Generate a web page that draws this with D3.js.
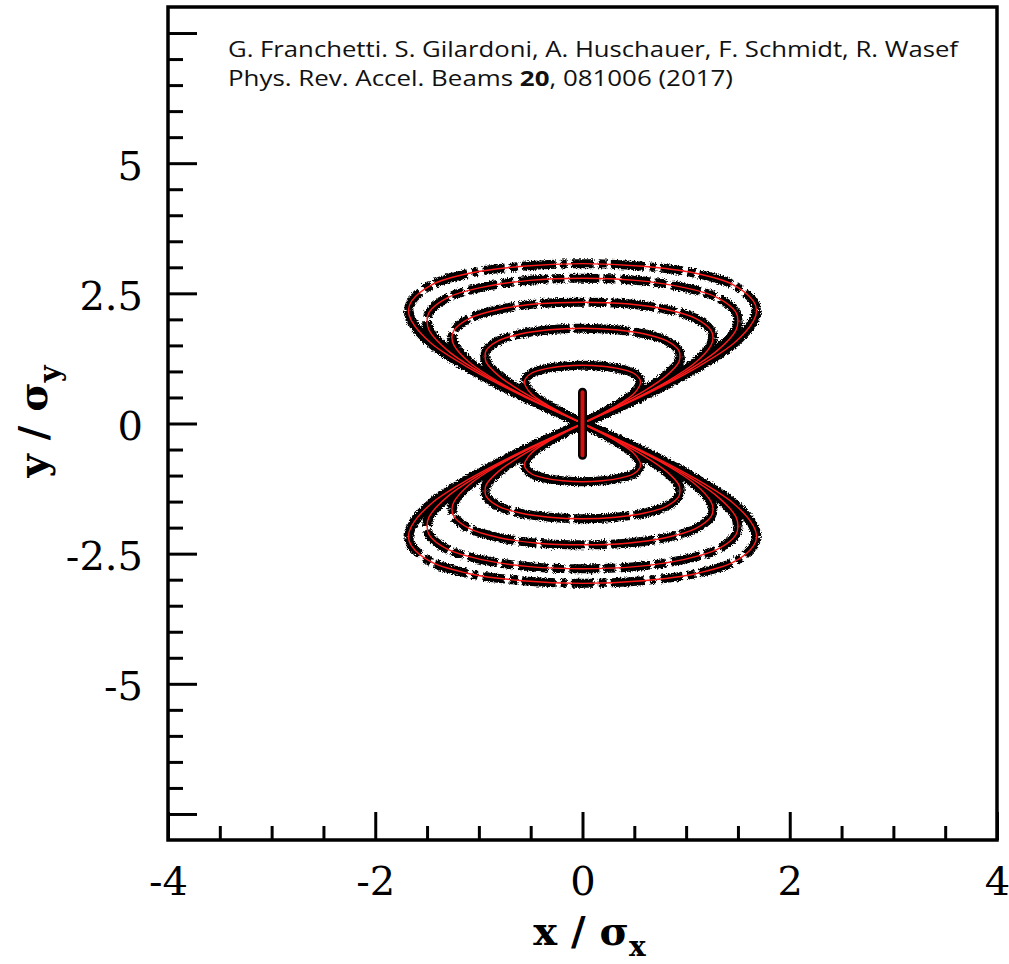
<!DOCTYPE html>
<html>
<head>
<meta charset="utf-8">
<script src="https://cdn.jsdelivr.net/npm/d3@7"></script>
<style>
  html, body { margin: 0; padding: 0; background: #fff; }
  svg { display: block; }
</style>
</head>
<body>
<svg id="chart" width="1009" height="964"></svg>
<script>
// ---- data -------------------------------------------------------------
// Each closed orbit is symmetric in x and y; only the quarter from the
// crossing point (0,0) out to the widest point and up to the top is listed.
const orbit1 = [[0,0],[0.58,0.53],[1.08,1.05],[1.46,1.54],[1.65,1.97],[1.68,2.17],[1.65,2.35],[1.46,2.66],[1.08,2.89],[0.58,3.02],[0,3.07]];
const orbit2 = [[0,0],[0.51,0.48],[0.96,0.95],[1.30,1.40],[1.48,1.79],[1.50,1.97],[1.48,2.14],[1.30,2.42],[0.96,2.62],[0.51,2.75],[0,2.79]];
const orbit3 = [[0,0],[0.43,0.40],[0.81,0.80],[1.09,1.17],[1.24,1.50],[1.26,1.65],[1.24,1.79],[1.09,2.02],[0.81,2.19],[0.43,2.30],[0,2.33]];
const orbit4 = [[0,0],[0.32,0.32],[0.60,0.63],[0.81,0.92],[0.93,1.18],[0.94,1.29],[0.93,1.40],[0.81,1.59],[0.60,1.72],[0.32,1.80],[0,1.83]];
const orbit5 = [[0,0],[0.19,0.19],[0.36,0.38],[0.49,0.56],[0.55,0.72],[0.56,0.79],[0.55,0.86],[0.49,0.97],[0.36,1.05],[0.19,1.10],[0,1.12]];
// particle that stays on the vertical axis
const axisOrbit = [[0,-0.61],[0,0.60]];

const xMajorTicks = [-4, -2, 0, 2, 4];
const xTickLabels = ["-4", "-2", "0", "2", "4"];
const yMajorTicks = [-7.5, -5, -2.5, 0, 2.5, 5, 7.5];
const yTickLabels = ["", "-5", "-2.5", "0", "2.5", "5", ""];

const citeLine1 = "G. Franchetti. S. Gilardoni, A. Huschauer, F. Schmidt, R. Wasef";
const citeLine2 = ["Phys. Rev. Accel. Beams ", "20", ", 081006 (2017)"];

// ---- styling ----------------------------------------------------------
const orbits = [orbit1, orbit2, orbit3, orbit4, orbit5];
const capDash = ["22 5 6 5 34 4 8 5", "30 5 12 4", "44 4 18 4", "56 4", null];

const W = 1009, H = 964;
const plot = { left: 168, top: 7, right: 997, bottom: 840 };

const x = d3.scaleLinear().domain([-4, 4]).range([plot.left, plot.right]);
const y = d3.scaleLinear().domain([-8, 8]).range([plot.bottom, plot.top]);

const svg = d3.select("#chart");

// rough edges for the bands of tracked particles
const defs = svg.append("defs");
const grain = defs.append("filter").attr("id", "grain")
  .attr("filterUnits", "userSpaceOnUse")
  .attr("x", 0).attr("y", 0).attr("width", W).attr("height", H);
grain.append("feTurbulence").attr("type", "fractalNoise")
  .attr("baseFrequency", 0.7).attr("numOctaves", 2).attr("seed", 7).attr("result", "noise");
grain.append("feDisplacementMap").attr("in", "SourceGraphic").attr("in2", "noise")
  .attr("scale", 5).attr("xChannelSelector", "R").attr("yChannelSelector", "G").attr("result", "disp");
grain.append("feGaussianBlur").attr("in", "disp").attr("stdDeviation", 0.6);

// ---- geometry helpers -------------------------------------------------
const mx = ([a, b]) => [-a, b];
const my = ([a, b]) => [a, -b];
const mxy = ([a, b]) => [-a, -b];

function fullLoop(q) {
  const n = q.length, pts = [];
  for (let i = 0; i < n; i++) pts.push(q[i]);            // origin -> upper right -> top
  for (let i = n - 2; i >= 0; i--) pts.push(mx(q[i]));   // top -> upper left -> origin
  for (let i = 1; i < n; i++) pts.push(my(q[i]));        // origin -> lower right -> bottom
  for (let i = n - 2; i >= 1; i--) pts.push(mxy(q[i]));  // bottom -> lower left
  return pts;
}
function caps(q) {
  const n = q.length, tip = d3.maxIndex(q, d => d[0]);
  const up = [], down = [];
  for (let i = tip; i < n; i++) { up.push(q[i]); down.push(my(q[i])); }
  for (let i = n - 2; i >= tip; i--) { up.push(mx(q[i])); down.push(mxy(q[i])); }
  return [up, down];
}
function sides(q) {
  const tip = d3.maxIndex(q, d => d[0]);
  const a = [], b = [];
  for (let i = tip; i >= 0; i--) { a.push(mx(q[i])); b.push(mxy(q[i])); }
  for (let i = 1; i <= tip; i++) { a.push(my(q[i])); b.push(q[i]); }
  return [a, b];
}

const openLine = d3.line().x(d => x(d[0])).y(d => y(d[1])).curve(d3.curveCatmullRom.alpha(0.5));
const closedLine = d3.line().x(d => x(d[0])).y(d => y(d[1])).curve(d3.curveCatmullRomClosed.alpha(0.5));

// ---- particle bands ---------------------------------------------------
const bands = svg.append("g").attr("filter", "url(#grain)")
  .attr("fill", "none").attr("stroke", "#000").attr("stroke-linecap", "butt");

orbits.forEach((q, k) => {
  sides(q).forEach(s => bands.append("path").attr("d", openLine(s)).attr("stroke-width", 10));
  caps(q).forEach(c => {
    const p = bands.append("path").attr("d", openLine(c)).attr("stroke-width", 9);
    if (capDash[k]) p.attr("stroke-dasharray", capDash[k]);
  });
});

// ---- analytic invariants ----------------------------------------------
const lines = svg.append("g").attr("fill", "none").attr("stroke", "#ff1a1a").attr("stroke-width", 1.4);
orbits.forEach(q => lines.append("path").attr("d", closedLine(fullLoop(q))));

// on-axis particle: dark outline with red core
svg.append("path").attr("d", openLine(axisOrbit))
  .attr("fill", "none").attr("stroke", "#000").attr("stroke-width", 9).attr("stroke-linecap", "round");
svg.append("path").attr("d", openLine(axisOrbit))
  .attr("fill", "none").attr("stroke", "#d40f0f").attr("stroke-width", 4).attr("stroke-linecap", "round");

// ---- axes -------------------------------------------------------------
const tickFont = "'DejaVu Serif', serif";

const xMinor = d3.range(-3.5, 4, 0.5).filter(v => !xMajorTicks.includes(v));
const yMinor = d3.range(-7.5, 8, 0.5).filter(v => !yMajorTicks.includes(v));

function styleAxis(g) {
  g.select(".domain").remove();
  g.selectAll("line").attr("stroke", "#000").attr("stroke-width", 3);
  g.selectAll("text").attr("font-family", tickFont).attr("font-size", 40).attr("fill", "#000");
}

svg.append("g").attr("transform", `translate(0,${plot.bottom})`)
  .call(d3.axisBottom(x).tickValues(xMinor).tickSizeInner(-14).tickSizeOuter(0).tickFormat(""))
  .call(styleAxis);
svg.append("g").attr("transform", `translate(0,${plot.bottom})`)
  .call(d3.axisBottom(x).tickValues(xMajorTicks).tickSizeInner(-28).tickSizeOuter(0)
    .tickPadding(27).tickFormat((d, i) => xTickLabels[i]))
  .call(styleAxis);

svg.append("g").attr("transform", `translate(${plot.left},0)`)
  .call(d3.axisLeft(y).tickValues(yMinor).tickSizeInner(-15).tickSizeOuter(0).tickFormat(""))
  .call(styleAxis);
svg.append("g").attr("transform", `translate(${plot.left},0)`)
  .call(d3.axisLeft(y).tickValues(yMajorTicks).tickSizeInner(-29).tickSizeOuter(0)
    .tickPadding(25).tickFormat((d, i) => yTickLabels[i]))
  .call(styleAxis)
  .call(g => g.selectAll("text").attr("dy", "0.4em"));

// frame
svg.append("rect")
  .attr("x", plot.left).attr("y", plot.top)
  .attr("width", plot.right - plot.left).attr("height", plot.bottom - plot.top)
  .attr("fill", "none").attr("stroke", "#000").attr("stroke-width", 3.5);

// ---- axis titles ------------------------------------------------------
const titleFont = "'DejaVu Serif', serif";
const xt = svg.append("text")
  .attr("x", x(0) + 7).attr("y", 945)
  .attr("text-anchor", "middle")
  .attr("font-family", titleFont).attr("font-weight", "bold").attr("font-size", 40);
xt.append("tspan").text("x / σ");
xt.append("tspan").attr("dy", 11).attr("font-size", 28).text("x");

const yt = svg.append("text")
  .attr("transform", `translate(47,${y(0) - 2}) rotate(-90)`)
  .attr("text-anchor", "middle")
  .attr("font-family", titleFont).attr("font-weight", "bold").attr("font-size", 40);
yt.append("tspan").text("y / σ");
yt.append("tspan").attr("dy", 13).attr("font-size", 29).text("y");

// ---- citation ---------------------------------------------------------
const citeFont = "'Open Sans', Lato, sans-serif";
svg.append("text")
  .attr("x", 228).attr("y", 57)
  .attr("font-family", citeFont).attr("font-size", 21).attr("fill", "#111")
  .attr("textLength", 730).attr("lengthAdjust", "spacingAndGlyphs")
  .text(citeLine1);
const c2 = svg.append("text")
  .attr("x", 228).attr("y", 85.5)
  .attr("font-family", citeFont).attr("font-size", 21).attr("fill", "#111")
  .attr("textLength", 505).attr("lengthAdjust", "spacingAndGlyphs");
c2.append("tspan").text(citeLine2[0]);
c2.append("tspan").attr("font-weight", "bold").text(citeLine2[1]);
c2.append("tspan").text(citeLine2[2]);
</script>
</body>
</html>
